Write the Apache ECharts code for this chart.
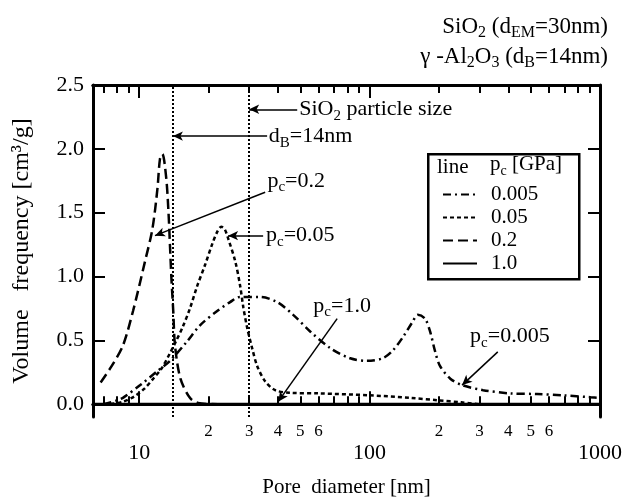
<!DOCTYPE html>
<html>
<head>
<meta charset="utf-8">
<script src="https://cdn.jsdelivr.net/npm/echarts@6/dist/echarts.min.js"></script>
<style>
  html, body {margin:0; padding:0; background:#fff;}
  #chart {width:631px; height:503px;}
</style>
</head>
<body>
<div id="chart"></div>
<script>
// pore diameter [nm] -> volume frequency [cm3/g]
var d005 = [7.0, 8.0, 8.5, 10.1, 12.0, 13.6, 16.1, 18.4, 21.8, 24.8, 27.4, 33.5, 39.7, 46.6, 55.2, 67.4, 82.3, 97.5, 114, 126, 140, 153, 162, 174, 183, 192, 202, 224, 252, 311, 407, 533, 691, 905, 1000];
var v005 = [0.0, 0.03, 0.05, 0.15, 0.26, 0.34, 0.49, 0.62, 0.73, 0.80, 0.84, 0.84, 0.80, 0.70, 0.57, 0.44, 0.36, 0.34, 0.36, 0.42, 0.53, 0.64, 0.70, 0.67, 0.57, 0.42, 0.30, 0.20, 0.15, 0.11, 0.085, 0.08, 0.07, 0.055, 0.05];

var d05 = [7.5, 8.5, 9.5, 10.5, 11.5, 12.5, 13.6, 14.5, 15.4, 16.6, 17.8, 19.3, 20.7, 21.8, 22.7, 23.5, 24.3, 26.1, 27.4, 28.3, 29.4, 30.9, 32.5, 35.2, 38.9, 45, 60, 100, 150, 200, 250, 300];
var v05 = [0.0, 0.02, 0.06, 0.12, 0.20, 0.28, 0.40, 0.50, 0.60, 0.75, 0.92, 1.09, 1.25, 1.35, 1.39, 1.37, 1.30, 1.12, 0.93, 0.76, 0.60, 0.44, 0.30, 0.18, 0.11, 0.09, 0.085, 0.07, 0.05, 0.03, 0.015, 0.0];

var d2 = [6.8, 7.6, 8.5, 9.4, 10.6, 11.4, 12.0, 12.3, 12.6, 13.1, 13.4, 13.6, 13.8, 14.05, 14.3, 15.1, 16.6, 18, 22];
var v2 = [0.17, 0.30, 0.46, 0.73, 1.12, 1.37, 1.69, 1.92, 1.96, 1.77, 1.50, 1.24, 0.98, 0.73, 0.46, 0.20, 0.05, 0.01, 0.0];

var d10 = [6.3, 10, 30, 100, 300, 1000];
var v10 = [0, 0, 0, 0, 0, 0];

var pcNames = ['0.005', '0.05', '0.2', '1.0'];

var refLines = [14, 30];            // d_B and SiO2 particle size
var yTicks = [0, 0.5, 1, 1.5, 2, 2.5];
var xMajorTicks = [10, 100];
var xMinorTicks = [7, 8, 9, 20, 30, 40, 50, 60, 70, 80, 90, 200, 300, 400, 500, 600, 700, 800, 900];
var xBigLabels = [10, 100, 1000];
var xSmallLabels = [20, 30, 40, 50, 60, 200, 300, 400, 500, 600];

// annotation arrows [from, to] and texts [d, v, text]
var arrows = [
  [[48.5, 2.31], [30, 2.31]],
  [[35.9, 2.10], [14, 2.10]],
  [[35.2, 1.66], [11.7, 1.32]],
  [[34.5, 1.32], [24.3, 1.32]],
  [[72.3, 0.67], [40.1, 0.02]],
  [[360, 0.41], [252, 0.15]]
];
var notes = [
  [49.5, 2.31, '{t|SiO}{s|2}{t| particle size}'],
  [36.5, 2.10, '{t|d}{s|B}{t|=14nm}'],
  [36.0, 1.75, '{t|p}{s|c}{t|=0.2}'],
  [35.5, 1.32, '{t|p}{s|c}{t|=0.05}'],
  [57, 0.77, '{t|p}{s|c}{t|=1.0}'],
  [273, 0.53, '{t|p}{s|c}{t|=0.005}']
];

var serif = 'Liberation Serif';
var rich = {
  t: {fontFamily: serif, fontSize: 22, fontWeight: 'normal', color: '#000', lineHeight: 25},
  s: {fontFamily: serif, fontSize: 15, fontWeight: 'normal', color: '#000', lineHeight: 28, verticalAlign: 'bottom'}
};
var richTitle = {
  t: {fontFamily: serif, fontSize: 23, fontWeight: 'normal', color: '#000', lineHeight: 26},
  s: {fontFamily: serif, fontSize: 16, fontWeight: 'normal', color: '#000', lineHeight: 29, verticalAlign: 'bottom'}
};

function zip(a, b) {
  return a.map(function (x, i) { return [x, b[i]]; });
}

function firstDigit(v) {
  var p = Math.pow(10, Math.floor(Math.log10(v) + 1e-9));
  return String(Math.round(v / p));
}

function xAx(pos, ticks, len, labels) {
  return {
    type: 'log', logBase: 10, min: 6.3, max: 1000, position: pos,
    axisLine: {show: true, lineStyle: {color: '#000', width: 3}},
    axisTick: {show: true, customValues: ticks, inside: true, length: len, lineStyle: {color: '#000', width: 2}},
    axisLabel: labels || {show: false},
    splitLine: {show: false},
    minorTick: {show: false}
  };
}

function yAx(pos, labels) {
  return {
    type: 'value', min: -0.1, max: 2.5, position: pos,
    axisLine: {show: true, lineStyle: {color: '#000', width: 3}},
    axisTick: {show: true, customValues: yTicks, inside: true, length: 12, lineStyle: {color: '#000', width: 2}},
    axisLabel: labels || {show: false},
    splitLine: {show: false}
  };
}

var chart = echarts.init(document.getElementById('chart'));

var lineTypes = [[8, 4, 2, 4], [4, 3], [10, 5], 'solid'];
var seriesData = [zip(d005, v005), zip(d05, v05), zip(d2, v2), zip(d10, v10)];

var series = pcNames.map(function (n, i) {
  return {
    name: n, type: 'line', data: seriesData[i],
    symbol: 'none', smooth: 0.3, z: 3,
    lineStyle: {color: '#000', width: i === 3 ? 3 : 2.5, type: lineTypes[i]},
    itemStyle: {color: '#000'}
  };
});

series.push({
  name: 'notes', type: 'line', data: [], z: 2,
  markLine: {
    silent: true, symbol: 'none', animation: false,
    label: {show: false},
    lineStyle: {color: '#000', width: 2, type: 'dotted'},
    data: refLines.map(function (x) { return {xAxis: x}; })
  }
});

series.push({
  name: 'arrows', type: 'line', data: [], z: 4,
  markLine: {
    silent: true, symbol: ['none', 'arrow'], symbolSize: [7, 10], animation: false,
    label: {show: false},
    lineStyle: {color: '#000', width: 1.5, type: 'solid'},
    data: arrows.map(function (a) { return [{coord: a[0]}, {coord: a[1]}]; })
  },
  markPoint: {
    silent: true, symbol: 'circle', symbolSize: 0, animation: false,
    label: {show: true, position: 'right', distance: 0, rich: rich},
    data: notes.map(function (n) {
      return {coord: [n[0], n[1]], label: {formatter: n[2]}};
    })
  }
});

var option = {
  animation: false,
  backgroundColor: '#fff',
  title: [
    {text: '{t|SiO}{s|2}{t| (d}{s|EM}{t|=30nm)}', right: 18, top: 7,
      textStyle: {fontWeight: 'normal', rich: richTitle}},
    {text: '{t|γ -Al}{s|2}{t|O}{s|3}{t| (d}{s|B}{t|=14nm)}', right: 18, top: 37,
      textStyle: {fontWeight: 'normal', rich: richTitle}}
  ],
  grid: {left: 93, right: 31, top: 85, bottom: 84, containLabel: false},
  legend: {
    data: pcNames, orient: 'vertical', left: 437, top: 179, z: 20,
    itemWidth: 34, itemHeight: 14, itemGap: 2,
    itemStyle: {color: 'rgba(0,0,0,0)', borderWidth: 0, opacity: 0},
    textStyle: {fontFamily: serif, fontSize: 21, color: '#000', padding: [0, 0, 0, 9]}
  },
  graphic: [
    {type: 'rect', left: 427, top: 153, shape: {width: 151, height: 125},
      style: {fill: '#fff', stroke: '#000', lineWidth: 2.5}, z: 1},
    {type: 'text', left: 437, top: 157, z: 11,
      style: {text: 'line', font: '21px "Liberation Serif"', fill: '#000'}},
    {type: 'text', left: 490, top: 154, z: 11,
      style: {text: '{t|p}{s|c}{t| [GPa]}', rich: {
        t: {fontFamily: serif, fontSize: 21, color: '#000', lineHeight: 24},
        s: {fontFamily: serif, fontSize: 14, color: '#000', lineHeight: 27, verticalAlign: 'bottom'}
      }}}
  ],
  xAxis: [
    xAx('bottom', xMinorTicks, 8, {show: true, customValues: xSmallLabels, formatter: firstDigit,
      margin: 6, fontFamily: serif, fontSize: 17, color: '#000'}),
    Object.assign(xAx('bottom', xMajorTicks, 13, {show: true, customValues: xBigLabels,
      formatter: function (v) { return String(Math.round(v)); },
      margin: 25, fontFamily: serif, fontSize: 22, color: '#000'}), {
      name: 'Pore  diameter [nm]', nameLocation: 'middle', nameGap: 60,
      nameTextStyle: {fontFamily: serif, fontSize: 21, color: '#000'}
    }),
    xAx('top', xMinorTicks, 8),
    xAx('top', xMajorTicks, 13)
  ],
  yAxis: [
    Object.assign(yAx('left', {show: true, customValues: yTicks,
      formatter: function (v) { return v.toFixed(1); },
      margin: 9, fontFamily: serif, fontSize: 22, color: '#000'}), {
      name: 'Volume   frequency [cm³/g]', nameLocation: 'middle', nameGap: 59,
      nameTextStyle: {fontFamily: serif, fontSize: 24, color: '#000'}
    }),
    yAx('right')
  ],
  series: series
};

chart.setOption(option);
</script>
</body>
</html>
